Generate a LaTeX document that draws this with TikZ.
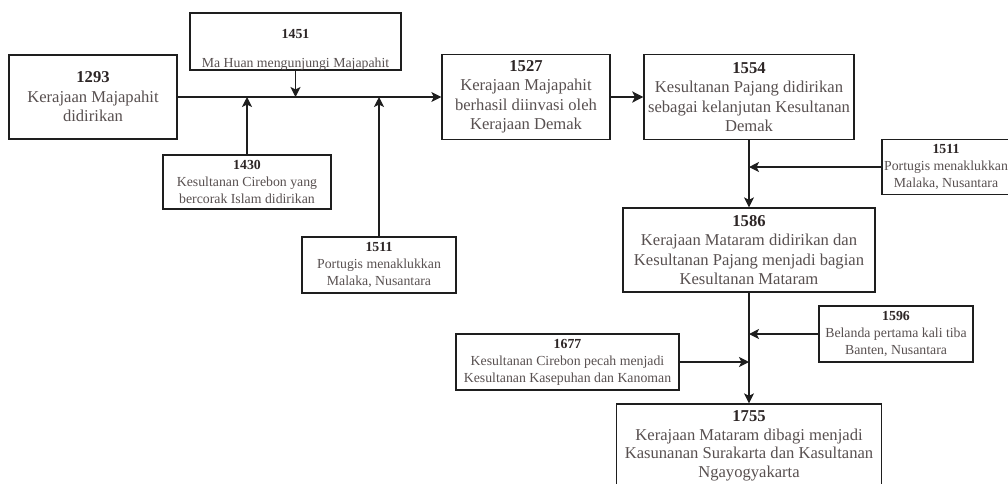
\documentclass[tikz,border=0pt]{standalone}
\usepackage{fontspec}
\setmainfont{Liberation Serif}
\usetikzlibrary{arrows.meta}
\definecolor{txt}{RGB}{88,80,80}
\definecolor{yrc}{RGB}{45,38,38}
\definecolor{ln}{RGB}{30,30,30}
\newcommand{\yrtext}[1]{{\bfseries\color{yrc}#1}}
\begin{document}
\begin{tikzpicture}[x=1pt,y=-1pt,
  box/.style={draw=ln, line width=1.3pt, align=center, inner sep=0pt, text=txt, fill=white},
  bigbox/.style={box, font=\fontsize{16.6}{19.5}\selectfont},
  smallbox/.style={box, font=\fontsize{13.8}{17}\selectfont},
  conn/.style={draw=ln, line width=1.2pt, -{Stealth[length=10pt,width=10pt,inset=2.5pt]}},
  thickconn/.style={draw=ln, line width=2.6pt, -{Stealth[length=11pt,width=11pt,inset=2.5pt]}},
]
\useasboundingbox (0,0) rectangle (1008,483);
\clip (0,0) rectangle (1008,483);
\fill[white] (0,0) rectangle (1008,483);

% junction points
\coordinate (j1430) at (247,97);
\coordinate (j1451) at (295.5,97);
\coordinate (j1511) at (379,97);
\coordinate (j1511b) at (749,167);
\coordinate (j1596) at (749,334);
\coordinate (j1677) at (749,362);

% nodes
\node[bigbox, minimum width=168pt, minimum height=84pt] (b1293) at (93,97)
  {\yrtext{1293}\\Kerajaan Majapahit\\didirikan};
\node[smallbox, minimum width=211pt, minimum height=57pt] (b1451) at (295.5,41.5)
  {\rule{0pt}{25pt}\yrtext{1451}\\[12pt]Ma Huan mengunjungi Majapahit};
\node[smallbox, minimum width=168pt, minimum height=54pt] (b1430) at (247,182)
  {\yrtext{1430}\\Kesultanan Cirebon yang\\bercorak Islam didirikan};
\node[smallbox, minimum width=154pt, minimum height=56pt] (b1511) at (379,265)
  {\yrtext{1511}\\Portugis menaklukkan\\Malaka, Nusantara};
\node[bigbox, minimum width=168pt, minimum height=85pt] (b1527) at (526,97)
  {\yrtext{1527}\\Kerajaan Majapahit\\berhasil diinvasi oleh\\Kerajaan Demak};
\node[bigbox, minimum width=210pt, minimum height=85pt] (b1554) at (749,97)
  {\yrtext{1554}\\Kesultanan Pajang didirikan\\sebagai kelanjutan Kesultanan\\Demak};
\node[smallbox, minimum width=128pt, minimum height=55pt] (b1511b) at (946,167)
  {\yrtext{1511}\\Portugis menaklukkan\\Malaka, Nusantara};
\node[bigbox, minimum width=252pt, minimum height=84pt] (b1586) at (749,250)
  {\yrtext{1586}\\Kerajaan Mataram didirikan dan\\Kesultanan Pajang menjadi bagian\\Kesultanan Mataram};
\node[smallbox, minimum width=154pt, minimum height=56pt] (b1596) at (896,334)
  {\yrtext{1596}\\Belanda pertama kali tiba\\Banten, Nusantara};
\node[smallbox, minimum width=223pt, minimum height=56pt] (b1677) at (567.5,362)
  {\yrtext{1677}\\Kesultanan Cirebon pecah menjadi\\Kesultanan Kasepuhan dan Kanoman};
\node[bigbox, font=\fontsize{16.6}{18.6}\selectfont, minimum width=265pt, minimum height=84pt] (b1755) at (749,446)
  {\yrtext{1755}\\Kerajaan Mataram dibagi menjadi\\Kasunanan Surakarta dan Kasultanan\\Ngayogyakarta};

% connectors
\draw[conn] (b1293.east) -- (b1527.west);
\draw[conn] (b1451.south) -- (j1451);
\draw[conn] (b1430.north) -- (j1430);
\draw[conn] (b1511.north) -- (j1511);
\draw[thickconn] (b1527.east) -- (b1554.west);
\draw[conn] (b1554.south) -- (b1586.north);
\draw[conn] (b1511b.west) -- (j1511b);
\draw[conn] (b1586.south) -- (b1755.north);
\draw[conn] (b1596.west) -- (j1596);
\draw[conn] (b1677.east) -- (j1677);
\end{tikzpicture}
\end{document}
